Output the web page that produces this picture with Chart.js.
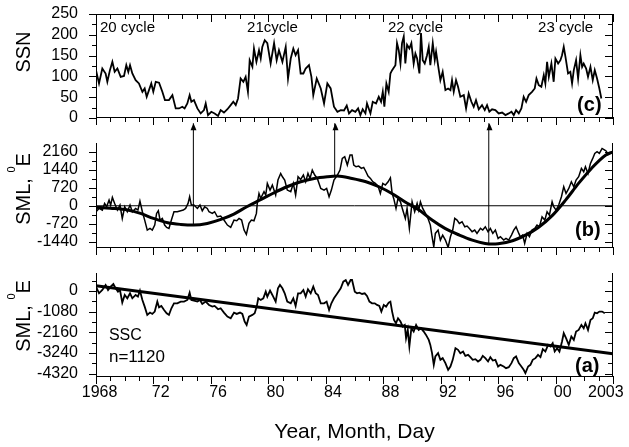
<!DOCTYPE html>
<html><head><meta charset="utf-8">
<script src="https://cdn.jsdelivr.net/npm/chart.js@4.4.0/dist/chart.umd.min.js"></script>
<style>
html,body{margin:0;padding:0;background:#fff;}
#wrap{position:relative;width:629px;height:447px;overflow:hidden;background:#fff;}
canvas{position:absolute;left:0;}
</style></head><body>
<div id="wrap">
<canvas id="cC" width="629" height="130" style="top:0px;width:629px;height:130px"></canvas>
<canvas id="cB" width="629" height="145" style="top:110px;width:629px;height:145px"></canvas>
<canvas id="cA" width="629" height="192" style="top:255px;width:629px;height:192px"></canvas>
<canvas id="ov" width="629" height="447" style="top:0px;width:629px;height:447px;z-index:5;pointer-events:none"></canvas>
</div>
<script>
// ---------------- DATA ----------------
const xLabelYears = [1968,1972,1976,1980,1984,1988,1992,1996,2000,2003];
const xTickLabels = ['1968','72','76','80','84','88','92','96','00','2003'];
const xMajorYears = [1968,1972,1976,1980,1984,1988,1992,1996,2000,2004];

const ssnTicks = [0,50,100,150,200,250];
const smlBTicks = [-1440,-720,0,720,1440,2160];
const smlATicks = [0,-1080,-2160,-3240,-4320];

const cycleLabels = ['20 cycle','21cycle','22 cycle','23 cycle'];

// (c) sunspot number
const ssn = [[1968.00,115],[1968.21,83],[1968.44,119],[1968.67,107],[1968.79,87],[1968.97,115],[1969.14,135],[1969.30,111],[1969.49,119],[1969.72,99],[1969.95,101],[1970.11,127],[1970.25,111],[1970.37,127],[1970.53,107],[1970.76,91],[1970.99,83],[1971.23,63],[1971.39,71],[1971.53,51],[1971.69,67],[1971.85,83],[1971.99,63],[1972.16,87],[1972.39,85],[1972.62,63],[1972.80,43],[1973.08,43],[1973.32,55],[1973.55,23],[1973.78,23],[1974.01,27],[1974.17,23],[1974.36,35],[1974.52,55],[1974.64,39],[1974.82,43],[1975.06,23],[1975.29,11],[1975.52,19],[1975.64,35],[1975.80,7],[1976.03,15],[1976.26,11],[1976.50,5],[1976.68,19],[1976.91,13],[1977.15,21],[1977.38,31],[1977.56,39],[1977.73,31],[1977.89,47],[1978.07,95],[1978.26,87],[1978.42,99],[1978.58,63],[1978.70,139],[1978.89,123],[1979.00,167],[1979.17,135],[1979.35,163],[1979.47,143],[1979.58,171],[1979.75,187],[1979.93,180],[1980.16,131],[1980.40,180],[1980.58,139],[1980.74,163],[1980.98,135],[1981.21,171],[1981.37,95],[1981.56,143],[1981.74,167],[1981.90,151],[1982.07,163],[1982.25,107],[1982.44,107],[1982.60,119],[1982.83,127],[1983.00,99],[1983.13,55],[1983.37,95],[1983.65,71],[1983.88,35],[1984.11,83],[1984.34,71],[1984.57,27],[1984.81,15],[1985.04,19],[1985.27,18],[1985.46,30],[1985.62,11],
[1985.83,19],[1986.06,15],[1986.25,23],[1986.41,7],[1986.57,21],[1986.76,11],[1986.87,35],[1987.11,11],[1987.27,39],[1987.50,35],[1987.69,51],[1987.85,39],[1987.97,63],[1988.08,27],[1988.22,83],[1988.38,63],[1988.50,107],[1988.62,115],[1988.85,127],[1988.96,180],[1989.08,163],[1989.20,131],[1989.31,180],[1989.43,196],[1989.54,131],[1989.66,176],[1989.82,167],[1989.96,180],[1990.12,131],[1990.24,155],[1990.36,143],[1990.52,107],[1990.63,204],[1990.75,139],[1990.89,131],[1991.05,151],[1991.17,171],[1991.28,127],[1991.45,180],[1991.59,139],[1991.68,159],[1991.87,115],[1991.98,91],[1992.14,111],[1992.33,67],[1992.52,71],[1992.68,67],[1992.79,91],[1992.91,63],[1993.07,91],[1993.21,75],[1993.37,51],[1993.61,55],[1993.77,23],[1993.95,59],[1994.14,39],[1994.30,27],[1994.46,43],[1994.65,21],[1994.88,31],[1995.07,19],[1995.23,31],[1995.39,15],[1995.58,21],[1995.81,19],[1996.04,11],[1996.28,13],[1996.51,7],[1996.74,11],[1996.93,15],[1997.09,7],[1997.25,19],[1997.44,11],[1997.62,23],[1997.78,51],[1997.95,39],[1998.13,55],[1998.36,63],[1998.55,71],[1998.67,95],[1998.83,79],[1999.01,75],[1999.18,103],[1999.29,83],[1999.41,135],[1999.53,99],[1999.71,131],[1999.87,87],[1999.99,143],[2000.18,131],[2000.34,139],[2000.45,151],[2000.57,171],[2000.69,147],[2000.87,107],[2001.03,111],[2001.15,83],[2001.27,115],[2001.43,139],[2001.57,95],[2001.73,151],[2001.85,123],[2001.96,131],[2002.13,119],[2002.26,99],[2002.43,123],[2002.59,91],[2002.73,115],[2002.89,95],[2003.05,71],[2003.19,47]];

// (b) SML detrended
const smlB = [[1968.00,-240],[1968.21,-107],[1968.44,-173],[1968.60,93],[1968.74,-40],[1968.91,227],[1969.02,27],[1969.14,333],[1969.30,93],[1969.49,-173],[1969.67,27],[1969.83,-507],[1970.00,-40],[1970.18,-240],[1970.37,27],[1970.53,-240],[1970.76,-107],[1970.92,-173],[1971.06,187],[1971.23,-240],[1971.39,-573],[1971.57,-973],[1971.76,-907],[1971.92,-973],[1972.09,-773],[1972.22,-307],[1972.34,-200],[1972.46,-573],[1972.62,-507],[1972.78,-773],[1972.92,-867],[1973.08,-907],[1973.25,-573],[1973.43,-240],[1973.66,-240],[1973.90,-200],[1974.08,-173],[1974.24,-107],[1974.41,93],[1974.52,360],[1974.64,27],[1974.82,27],[1975.06,-107],[1975.24,27],[1975.40,-200],[1975.57,-40],[1975.75,-107],[1975.87,-240],[1976.10,-307],[1976.26,-240],[1976.45,-440],[1976.68,-413],[1976.91,-573],[1977.15,-773],[1977.38,-867],[1977.61,-573],[1977.80,-600],[1977.96,-507],[1978.14,-573],[1978.31,-973],[1978.47,-1147],[1978.65,-707],[1978.82,-573],[1979.00,-600],[1979.17,-307],[1979.23,93],[1979.35,493],[1979.47,293],[1979.70,560],[1979.82,427],[1979.93,893],[1980.12,627],[1980.28,827],[1980.51,427],[1980.67,1027],[1980.86,1293],[1980.98,1160],[1981.14,1027],[1981.32,627],[1981.56,560],[1981.74,893],[1981.90,427],[1982.07,1160],[1982.25,1053],[1982.44,1227],[1982.60,960],[1982.76,1293],[1982.90,1093],[1983.06,1427],[1983.23,1227],[1983.41,1093],[1983.65,693],[1983.88,627],[1984.06,693],[1984.23,360],[1984.39,627],[1984.57,1027],[1984.81,1227],[1984.99,1427],[1985.15,1893],[1985.32,1960],[1985.50,1627],[1985.69,2027],
[1985.83,2027],[1985.95,1627],[1986.11,1560],[1986.29,1587],[1986.48,1493],[1986.64,1533],[1986.80,1360],[1986.94,1187],[1987.11,1093],[1987.27,960],[1987.45,893],[1987.64,787],[1987.80,493],[1987.97,893],[1988.15,827],[1988.34,960],[1988.50,1120],[1988.62,493],[1988.73,293],[1988.89,-107],[1989.03,293],[1989.20,160],[1989.36,-173],[1989.54,-507],[1989.66,-107],[1989.82,-907],[1990.01,160],[1990.19,-240],[1990.36,93],[1990.47,-173],[1990.59,160],[1990.75,-107],[1990.94,-307],[1991.12,-507],[1991.28,-773],[1991.40,-1240],[1991.52,-1640],[1991.63,-1107],[1991.82,-973],[1991.98,-1373],[1992.14,-1173],[1992.33,-1373],[1992.52,-1667],[1992.68,-1240],[1992.84,-973],[1992.98,-507],[1993.14,-573],[1993.30,-707],[1993.49,-640],[1993.68,-840],[1993.84,-813],[1994.00,-907],[1994.19,-1040],[1994.37,-973],[1994.53,-1107],[1994.77,-907],[1994.93,-973],[1995.11,-840],[1995.30,-1040],[1995.46,-907],[1995.63,-1107],[1995.81,-973],[1996.00,-1307],[1996.16,-1240],[1996.39,-1373],[1996.55,-1307],[1996.74,-1373],[1996.93,-1173],[1997.09,-973],[1997.25,-840],[1997.44,-1107],[1997.55,-1240],[1997.71,-1173],[1997.85,-1507],[1998.02,-1107],[1998.18,-1240],[1998.36,-973],[1998.55,-907],[1998.71,-773],[1998.88,-840],[1999.06,-440],[1999.25,-573],[1999.41,-240],[1999.57,-373],[1999.76,160],[1999.87,-40],[2000.04,-173],[2000.22,27],[2000.41,360],[2000.57,760],[2000.73,493],[2000.92,693],[2001.10,960],[2001.27,760],[2001.43,1027],[2001.61,1160],[2001.80,1493],[2001.96,1360],[2002.08,1560],[2002.26,1293],[2002.43,1693],[2002.59,1893],[2002.73,2093],[2002.89,2160],[2003.05,2093],[2003.24,2293],[2003.43,2227],[2003.59,2160]];

// (b) smooth fitted curve
const smlBFit = [[1968.0,-60],[1969.0,-100],[1970.2,-170],[1971.1,-307],[1972.0,-507],[1973.0,-680],[1973.9,-747],[1974.8,-773],[1975.75,-707],[1976.7,-547],[1977.6,-333],[1978.5,-40],[1979.5,253],[1980.4,520],[1981.3,760],[1982.25,960],[1983.2,1093],[1984.1,1160],[1984.8,1187],[1985.83,1093],[1986.8,960],[1987.7,760],[1988.6,493],[1989.5,160],[1990.5,-173],[1991.4,-573],[1992.3,-907],[1993.3,-1173],[1994.2,-1373],[1995.1,-1507],[1995.6,-1533],[1996.0,-1520],[1997.0,-1400],[1997.9,-1173],[1998.8,-867],[1999.8,-373],[2000.7,227],[2001.6,893],[2002.5,1493],[2003.5,2027],[2004.0,2160]];

// (b) arrows: year, from value (curve extreme), tip value (above panel)
const arrowYears = [1974.78, 1984.62, 1995.35];
const arrowFrom = [-773, 1187, -1533];
const arrowTip = 3300;

// (a) SML cumulative
const smlA = [[1968.00,226],[1968.21,-122],[1968.44,52],[1968.67,313],[1968.84,52],[1969.02,226],[1969.21,365],[1969.37,139],[1969.53,-35],[1969.67,52],[1969.83,-609],[1970.00,-209],[1970.18,-383],[1970.37,-122],[1970.53,-383],[1970.76,-209],[1970.92,-296],[1971.06,17],[1971.23,-470],[1971.39,-818],[1971.57,-1253],[1971.76,-1131],[1971.92,-1200],[1972.09,-1079],[1972.27,-557],[1972.39,-853],[1972.55,-783],[1972.74,-992],[1972.92,-1166],[1973.08,-1253],[1973.25,-905],[1973.43,-644],[1973.66,-644],[1973.90,-557],[1974.13,-557],[1974.36,-470],[1974.52,-87],[1974.64,-470],[1974.82,-505],[1975.06,-557],[1975.24,-470],[1975.40,-679],[1975.64,-557],[1975.87,-731],[1976.10,-818],[1976.26,-783],[1976.50,-957],[1976.68,-905],[1976.91,-1131],[1977.15,-1340],[1977.38,-1427],[1977.61,-1131],[1977.80,-1200],[1978.03,-1131],[1978.19,-1200],[1978.35,-1601],[1978.49,-1775],[1978.65,-1340],[1978.89,-1253],[1979.05,-1166],[1979.19,-818],[1979.30,-383],[1979.47,-470],[1979.65,-383],[1979.82,-35],[1979.93,-296],[1980.12,17],[1980.28,-209],[1980.51,-557],[1980.67,139],[1980.81,313],[1980.98,139],[1981.14,-122],[1981.32,-557],[1981.56,-644],[1981.74,-383],[1981.90,-783],[1982.07,-122],[1982.25,-122],[1982.44,52],[1982.60,-296],[1982.76,87],[1982.95,-122],[1983.13,226],[1983.30,-122],[1983.46,-209],[1983.65,-644],[1983.88,-644],[1984.06,-557],[1984.23,-992],[1984.39,-644],[1984.57,-383],[1984.81,-122],[1985.04,139],[1985.22,487],[1985.39,574],[1985.55,313],[1985.73,574],
[1985.83,574],[1986.02,-35],[1986.18,-122],[1986.34,-87],[1986.53,-157],[1986.71,-122],[1986.87,-261],[1987.04,-557],[1987.22,-644],[1987.41,-644],[1987.57,-731],[1987.73,-783],[1987.87,-1079],[1988.04,-731],[1988.20,-818],[1988.38,-609],[1988.50,-557],[1988.62,-1079],[1988.75,-1514],[1988.89,-1688],[1989.03,-1427],[1989.20,-1601],[1989.36,-1862],[1989.50,-1775],[1989.59,-2471],[1989.71,-2036],[1989.82,-2906],[1989.96,-1949],[1990.12,-2123],[1990.29,-1775],[1990.47,-2036],[1990.63,-1949],[1990.82,-2123],[1990.98,-2297],[1991.17,-2558],[1991.28,-2819],[1991.40,-3254],[1991.52,-3863],[1991.63,-3428],[1991.82,-3254],[1991.98,-3602],[1992.14,-3515],[1992.33,-3776],[1992.52,-4124],[1992.68,-3950],[1992.84,-3602],[1993.03,-2993],[1993.21,-3080],[1993.37,-3254],[1993.56,-3167],[1993.72,-3393],[1993.91,-3341],[1994.07,-3463],[1994.23,-3602],[1994.42,-3567],[1994.60,-3689],[1994.77,-3602],[1994.93,-3393],[1995.11,-3515],[1995.30,-3689],[1995.46,-3463],[1995.63,-3637],[1995.81,-3602],[1996.00,-3950],[1996.16,-3863],[1996.39,-3950],[1996.55,-4037],[1996.74,-3985],[1996.93,-3776],[1997.09,-3515],[1997.25,-3428],[1997.44,-3776],[1997.62,-3950],[1997.78,-4124],[1997.90,-4298],[1998.09,-3950],[1998.25,-3863],[1998.41,-3602],[1998.60,-3515],[1998.78,-3341],[1998.95,-3463],[1999.11,-3045],[1999.29,-3167],[1999.48,-2819],[1999.64,-2906],[1999.80,-2732],[1999.94,-3167],[2000.11,-2993],[2000.27,-3167],[2000.45,-2645],[2000.57,-2210],[2000.73,-2471],[2000.92,-2819],[2001.10,-2384],[2001.27,-2558],[2001.43,-2123],[2001.61,-2036],[2001.80,-1775],[2001.96,-1949],[2002.08,-1688],[2002.26,-2036],[2002.43,-1514],[2002.59,-1427],[2002.73,-1131],[2002.89,-1166],[2003.05,-1079],[2003.24,-1079],[2003.43,-1166]];

// (a) linear trend end points
const trendYears = [1968, 2004];
const trendValues = [280, -3290];

// ---------------- RENDERING ----------------
const FAM = "'Liberation Sans', Arial, Helvetica, sans-serif";
Chart.defaults.font.family = FAM;
Chart.defaults.color = '#000';

const toXY = arr => arr.map(p => ({x: p[0], y: p[1]}));
const allYears = [];
for (let y = 1968; y <= 2004; y++) allYears.push(y);

const frameCfg = {
  cC: {top: true,  yMajor: ssnTicks,  yMinor: [25, 75, 125, 175, 225]},
  cB: {top: false, yMajor: smlBTicks, yMinor: [-1080, -360, 360, 1080, 1800]},
  cA: {top: false, yMajor: smlATicks, yMinor: [540, -540, -1620, -2700, -3780]}
};

const annot = {
  id: 'annot',
  afterDraw(chart, args, o) {
    const ctx = chart.ctx, a = chart.chartArea, xs = chart.scales.x, ys = chart.scales.y;
    ctx.save();
    ctx.fillStyle = '#000';
    if (o.arrows) {
      arrowYears.forEach(yr => {
        const px = Math.round(xs.getPixelForValue(yr)) + 0.5;
        const py = ys.getPixelForValue(arrowTip);
        ctx.beginPath();
        ctx.moveTo(px, py);
        ctx.lineTo(px + 3, py + 7);
        ctx.lineTo(px - 3, py + 7);
        ctx.closePath();
        ctx.fill();
      });
    }
    ctx.textBaseline = 'alphabetic';
    (o.texts || []).forEach(tx => {
      ctx.font = (tx.bold ? 'bold ' : '') + tx.size + 'px ' + FAM;
      ctx.textAlign = 'left';
      ctx.fillText(tx.t, xs.getPixelForValue(tx.x), ys.getPixelForValue(tx.y));
    });
    if (o.ytitle) {
      const yt2 = o.ytitle;
      ctx.save();
      ctx.translate(yt2.x, yt2.y);
      ctx.rotate(-Math.PI / 2);
      const widths = [];
      let total = 0;
      yt2.parts.forEach(p => { ctx.font = p.size + 'px ' + FAM; const w = ctx.measureText(p.t).width; widths.push(w); total += w; });
      let cx = -total / 2;
      ctx.textAlign = 'left';
      yt2.parts.forEach((p, i) => { ctx.font = p.size + 'px ' + FAM; ctx.fillText(p.t, cx, -(p.rise || 0)); cx += widths[i]; });
      ctx.restore();
    }
    if (o.xtitle) {
      ctx.font = o.xtitle.size + 'px ' + FAM;
      ctx.textAlign = 'center';
      ctx.fillText(o.xtitle.t, (a.left + a.right) / 2, o.xtitle.y);
    }
    ctx.restore();
  }
};

function yAxis(min, max, ticks) {
  return {
    type: 'linear', min: min, max: max,
    grid: {display: false}, border: {display: false},
    afterFit: s => { s.width = 96; s.paddingTop = 0; s.paddingBottom = 0; },
    afterBuildTicks: s => { s.ticks = ticks.map(v => ({value: v})); },
    ticks: {autoSkip: false, padding: 10, font: {size: 16}, color: '#000', callback: v => String(v)}
  };
}
const xHidden = () => ({type: 'linear', min: 1968, max: 2004, display: false});

function baseOptions(padding, scales, annotOpts) {
  return {
    responsive: false, animation: false, events: [],
    layout: {padding: padding, autoPadding: false},
    elements: {point: {radius: 0}, line: {tension: 0}},
    plugins: {legend: {display: false}, tooltip: {enabled: false}, annot: annotOpts},
    scales: scales
  };
}

const smlTitle = y => ({x: 30, y: y, parts: [{t: 'SML, ', size: 20}, {t: '0', size: 11, rise: 15}, {t: 'E', size: 20}]});

// Panel (c)
const chartC = new Chart(document.getElementById('cC'), {
  type: 'line',
  data: {datasets: [{data: toXY(ssn), borderColor: '#000', borderWidth: 1.8, pointRadius: 0}]},
  options: baseOptions({left: 0, right: 16, top: 14, bottom: 12},
    {x: xHidden(), y: yAxis(0, 250, ssnTicks)},
    {texts: [
       {t: cycleLabels[0], x: 1968.28, y: 207, size: 15},
       {t: cycleLabels[1], x: 1978.52, y: 207, size: 15},
       {t: cycleLabels[2], x: 1988.33, y: 207, size: 15},
       {t: cycleLabels[3], x: 1998.78, y: 207, size: 15},
       {t: '(c)', x: 2001.5, y: 17, size: 20, bold: true}
     ],
     ytitle: {x: 30, y: 52, parts: [{t: 'SSN', size: 20}]}}),
  plugins: [annot]
});

// Panel (b)
const arrowSets = arrowYears.map((yr, i) => ({
  data: [{x: yr, y: arrowFrom[i]}, {x: yr, y: arrowTip}],
  borderColor: '#000', borderWidth: 1, clip: false, pointRadius: 0
}));
const chartB = new Chart(document.getElementById('cB'), {
  type: 'line',
  data: {datasets: [
    {data: [{x: 1968, y: 0}, {x: 2004, y: 0}], borderColor: '#000', borderWidth: 1},
    {data: toXY(smlB), borderColor: '#000', borderWidth: 1.5},
    {data: toXY(smlBFit), borderColor: '#000', borderWidth: 3, cubicInterpolationMode: 'monotone'},
    ...arrowSets
  ]},
  options: baseOptions({left: 0, right: 16, top: 33, bottom: 7},
    {x: xHidden(), y: yAxis(-1690, 2510, smlBTicks)},
    {arrows: true,
     texts: [{t: '(b)', x: 2001.36, y: -1212, size: 20, bold: true}],
     ytitle: smlTitle(79)}),
  plugins: [annot]
});

// Panel (a)
const chartA = new Chart(document.getElementById('cA'), {
  type: 'line',
  data: {datasets: [
    {data: toXY(smlA), borderColor: '#000', borderWidth: 1.8},
    {data: trendYears.map((yr, i) => ({x: yr, y: trendValues[i]})), borderColor: '#000', borderWidth: 3}
  ]},
  options: baseOptions({left: 0, right: 16, top: 18, bottom: 0},
    {x: {type: 'linear', min: 1968, max: 2004,
         grid: {display: false}, border: {display: false},
         afterFit: s => { s.height = 70; s.paddingLeft = 0; s.paddingRight = 0; },
         afterBuildTicks: s => { s.ticks = xLabelYears.map((v, i) => ({value: v + (i === 0 ? 0.25 : 0.5)})); },
         ticks: {autoSkip: false, maxRotation: 0, padding: -2, font: {size: 16}, color: '#000',
                 callback: (v, i) => xTickLabels[i]}},
     y: yAxis(-4500, 940, smlATicks)},
    {texts: [
       {t: 'SSC', x: 1968.9, y: -2560, size: 16},
       {t: 'n=1120', x: 1968.9, y: -3693, size: 17},
       {t: '(a)', x: 2001.36, y: -4231, size: 20, bold: true}
     ],
     ytitle: smlTitle(61),
     xtitle: {t: 'Year, Month, Day', size: 21, y: 183}}),
  plugins: [annot]
});

// ---- axis frames and tick marks on a plain overlay canvas, positioned from each chart's scales ----
(function drawFrames() {
  const ov = document.getElementById('ov').getContext('2d');
  ov.fillStyle = '#000';
  const MAJ = 7, MIN = 4;
  [chartC, chartB, chartA].forEach(ch => {
    const cfg = frameCfg[ch.canvas.id];
    const off = ch.canvas.offsetTop;
    const a = ch.chartArea, xs = ch.scales.x, ys = ch.scales.y;
    const l = Math.round(a.left), r = Math.round(a.right) - 1;
    const t = Math.round(a.top) + off, b = Math.round(a.bottom) - 1 + off;
    const hline = (x0, x1, y) => ov.fillRect(Math.min(x0, x1), y, Math.abs(x1 - x0) + 1, 1);
    const vline = (x, y0, y1) => ov.fillRect(x, Math.min(y0, y1), 1, Math.abs(y1 - y0) + 1);
    vline(l, t, b); vline(r, t, b); hline(l, r, b);
    if (cfg.top) hline(l, r, t);
    allYears.forEach(yr => {
      const px = Math.round(xs.getPixelForValue(yr));
      const len = xMajorYears.indexOf(yr) >= 0 ? MAJ : MIN;
      vline(px, b, b + len);
      if (cfg.top) vline(px, t, t + len);
    });
    const ytick = (v, len) => {
      const py = Math.round(ys.getPixelForValue(v)) + off;
      hline(l - len, l, py);
      hline(r - len, r, py);
    };
    cfg.yMajor.forEach(v => ytick(v, MAJ));
    cfg.yMinor.forEach(v => ytick(v, MIN));
  });
})();
</script>
</body></html>
